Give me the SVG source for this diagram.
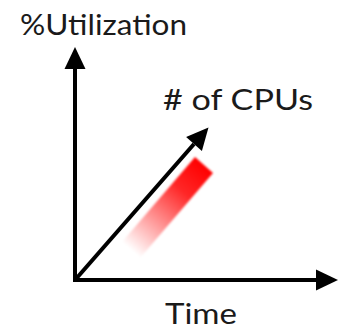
<svg xmlns="http://www.w3.org/2000/svg" width="341" height="331" viewBox="0 0 341 331">
  <style>
    .lbl { font-family: "Lato", "Open Sans", "Liberation Sans", sans-serif; font-size: 28px; fill: #1a1a1a; }
    .axis { stroke: #000; stroke-width: 4; fill: none; }
  </style>
  <defs>
    <marker id="ah" markerUnits="userSpaceOnUse" markerWidth="22" markerHeight="21" refX="0" refY="10.5" orient="auto" overflow="visible">
      <path d="M0,0 L22,10.5 L0,21 Z" fill="#000"/>
    </marker>
    <linearGradient id="redfade" gradientUnits="userSpaceOnUse" x1="204" y1="165" x2="131" y2="250">
      <stop offset="0" stop-color="#ff0000" stop-opacity="1"/>
      <stop offset="0.3" stop-color="#ff0000" stop-opacity="0.85"/>
      <stop offset="1" stop-color="#ff0000" stop-opacity="0"/>
    </linearGradient>
    <filter id="soft" x="-10%" y="-10%" width="120%" height="120%">
      <feGaussianBlur stdDeviation="0.8"/>
    </filter>
  </defs>
  <rect width="341" height="331" fill="#fff"/>
  <g id="trend">
    <polygon points="195,157 213,173 140,258 122,242" fill="url(#redfade)" filter="url(#soft)"/>
  </g>
  <g id="connectors">
    <path class="axis" d="M75,280 V69" stroke-linecap="square" marker-end="url(#ah)"/>
    <path class="axis" d="M75,280 H316" stroke-linecap="square" marker-end="url(#ah)"/>
    <path class="axis" d="M75,280 L194,144" marker-end="url(#ah)"/>
  </g>
  <g id="y-label"><text class="lbl" x="20" y="35" textLength="167" lengthAdjust="spacingAndGlyphs">%Utilization</text></g>
  <g id="cpu-label"><text class="lbl" x="163" y="110" textLength="150" lengthAdjust="spacingAndGlyphs"># of CPUs</text></g>
  <g id="x-label"><text class="lbl" x="165" y="324" textLength="72" lengthAdjust="spacingAndGlyphs">Time</text></g>
</svg>
